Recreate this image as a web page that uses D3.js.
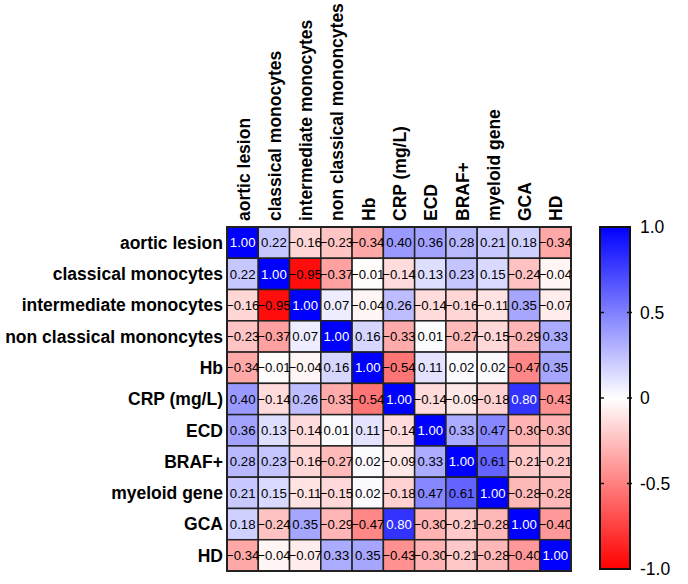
<!DOCTYPE html>
<html>
<head>
<meta charset="utf-8">
<script src="https://cdn.jsdelivr.net/npm/d3@7"></script>
<style>
    body { margin: 0; background: #fff; }
    text { font-family: "Liberation Sans", Arial, sans-serif; }
</style>
</head>
<body>
<div class="general_container"></div>
<script>
// ! DATA ! //
const variables = ["aortic lesion", "classical monocytes", "intermediate monocytes", "non classical mononcytes", "Hb", "CRP (mg/L)", "ECD", "BRAF+", "myeloid gene", "GCA", "HD"];

const rowAorticLesion = [1.0, 0.22, -0.16, -0.23, -0.34, 0.4, 0.36, 0.28, 0.21, 0.18, -0.34];
const rowClassical = [0.22, 1.0, -0.95, -0.37, -0.01, -0.14, 0.13, 0.23, 0.15, -0.24, -0.04];
const rowIntermediate = [-0.16, -0.95, 1.0, 0.07, -0.04, 0.26, -0.14, -0.16, -0.11, 0.35, -0.07];
const rowNonClassical = [-0.23, -0.37, 0.07, 1.0, 0.16, -0.33, 0.01, -0.27, -0.15, -0.29, 0.33];
const rowHb = [-0.34, -0.01, -0.04, 0.16, 1.0, -0.54, 0.11, 0.02, 0.02, -0.47, 0.35];
const rowCRP = [0.4, -0.14, 0.26, -0.33, -0.54, 1.0, -0.14, -0.09, -0.18, 0.8, -0.43];
const rowECD = [0.36, 0.13, -0.14, 0.01, 0.11, -0.14, 1.0, 0.33, 0.47, -0.3, -0.3];
const rowBRAF = [0.28, 0.23, -0.16, -0.27, 0.02, -0.09, 0.33, 1.0, 0.61, -0.21, -0.21];
const rowMyeloid = [0.21, 0.15, -0.11, -0.15, 0.02, -0.18, 0.47, 0.61, 1.0, -0.28, -0.28];
const rowGCA = [0.18, -0.24, 0.35, -0.29, -0.47, 0.8, -0.3, -0.21, -0.28, 1.0, -0.4];
const rowHD = [-0.34, -0.04, -0.07, 0.33, 0.35, -0.43, -0.3, -0.21, -0.28, -0.4, 1.0];

const legendTicks = [1, 0.5, 0, -0.5, -1];
const legendTickLabels = ["1.0", "0.5", "0", "-0.5", "-1.0"];

document.addEventListener("DOMContentLoaded", () => {
    const matrix = [rowAorticLesion, rowClassical, rowIntermediate, rowNonClassical, rowHb, rowCRP, rowECD, rowBRAF, rowMyeloid, rowGCA, rowHD];
    const cells = [];
    matrix.forEach((row, i) => row.forEach((v, j) => cells.push({ row: variables[i], col: variables[j], value: v })));

    // ! SIZES ! //
    const width = 688;
    const height = 584;
    const grid = { left: 227, top: 227, size: 344 };

    const svg = d3.select(".general_container").append("svg").attr("width", width).attr("height", height);

    // ! SCALES ! //
    const xScale = d3.scaleBand().domain(variables).range([grid.left, grid.left + grid.size]);
    const yScale = d3.scaleBand().domain(variables).range([grid.top, grid.top + grid.size]);
    const color = d3.scaleLinear().domain([-1, 0, 1]).range(["#ff0000", "#ffffff", "#0000ff"]).clamp(true);

    // ! CELLS ! //
    const cellG = svg.append("g").attr("class", "cells");
    cellG
        .selectAll("rect")
        .data(cells)
        .enter()
        .append("rect")
        .attr("x", (d) => xScale(d.col))
        .attr("y", (d) => yScale(d.row))
        .attr("width", xScale.bandwidth())
        .attr("height", yScale.bandwidth())
        .attr("fill", (d) => color(d.value))
        .attr("stroke", "#222")
        .attr("stroke-width", 1.5);

    cellG
        .selectAll("text")
        .data(cells)
        .enter()
        .append("text")
        .attr("x", (d) => xScale(d.col) + xScale.bandwidth() / 2)
        .attr("y", (d) => yScale(d.row) + yScale.bandwidth() / 2)
        .attr("dy", "0.36em")
        .attr("text-anchor", "middle")
        .attr("font-size", 13.2)
        .attr("fill", (d) => (d.value > 0.7 ? "#fff" : "#000"))
        .text((d) => d3.format(".2f")(d.value));

    // ^ outer border ^ //
    svg.append("rect")
        .attr("x", grid.left)
        .attr("y", grid.top)
        .attr("width", grid.size)
        .attr("height", grid.size)
        .attr("fill", "none")
        .attr("stroke", "#222")
        .attr("stroke-width", 2);

    // ! ROW LABELS ! //
    svg.append("g")
        .selectAll("text")
        .data(variables)
        .enter()
        .append("text")
        .attr("x", grid.left - 4)
        .attr("y", (d) => yScale(d) + yScale.bandwidth() / 2)
        .attr("dy", "0.36em")
        .attr("text-anchor", "end")
        .attr("font-size", 17.5)
        .attr("font-weight", "bold")
        .text((d) => d);

    // ! COLUMN LABELS ! //
    svg.append("g")
        .selectAll("text")
        .data(variables)
        .enter()
        .append("text")
        .attr("transform", (d) => `translate(${xScale(d) + xScale.bandwidth() / 2},${grid.top - 6}) rotate(-90)`)
        .attr("dy", "0.4em")
        .attr("text-anchor", "start")
        .attr("font-size", 17.5)
        .attr("font-weight", "bold")
        .text((d) => d);

    // ! LEGEND ! //
    const legend = { x: 600, w: 30, top: 227, bottom: 569 };
    const legendY = d3.scaleLinear().domain([-1, 1]).range([legend.bottom, legend.top]);

    const grad = svg.append("defs").append("linearGradient").attr("id", "legendGrad").attr("x1", 0).attr("y1", 1).attr("x2", 0).attr("y2", 0);
    grad.selectAll("stop")
        .data([-1, 0, 1])
        .enter()
        .append("stop")
        .attr("offset", (d) => (d + 1) / 2)
        .attr("stop-color", (d) => color(d));

    svg.append("rect")
        .attr("x", legend.x)
        .attr("y", legend.top)
        .attr("width", legend.w)
        .attr("height", legend.bottom - legend.top)
        .attr("fill", "url(#legendGrad)")
        .attr("stroke", "#111")
        .attr("stroke-width", 2);

    // ^ inner tick marks ^ //
    const innerTicks = legendTicks.filter((t) => Math.abs(t) < 1);
    svg.append("g")
        .selectAll("line.left")
        .data(innerTicks)
        .enter()
        .append("line")
        .attr("x1", legend.x)
        .attr("x2", legend.x + 4)
        .attr("y1", (d) => legendY(d))
        .attr("y2", (d) => legendY(d))
        .attr("stroke", "#111")
        .attr("stroke-width", 1.5);
    svg.append("g")
        .selectAll("line.right")
        .data(innerTicks)
        .enter()
        .append("line")
        .attr("x1", legend.x + legend.w - 3)
        .attr("x2", legend.x + legend.w + 2)
        .attr("y1", (d) => legendY(d))
        .attr("y2", (d) => legendY(d))
        .attr("stroke", "#111")
        .attr("stroke-width", 1.5);

    const legendAxis = d3
        .axisRight(legendY)
        .tickValues(legendTicks)
        .tickSize(0)
        .tickPadding(10)
        .tickFormat((d, i) => legendTickLabels[i]);

    const axisG = svg.append("g").attr("transform", `translate(${legend.x + legend.w},0)`).call(legendAxis);
    axisG.select(".domain").remove();
    axisG.selectAll("text").attr("font-size", 17.5).attr("font-family", "Liberation Sans, Arial, sans-serif").attr("fill", "#000");
});
</script>
</body>
</html>
